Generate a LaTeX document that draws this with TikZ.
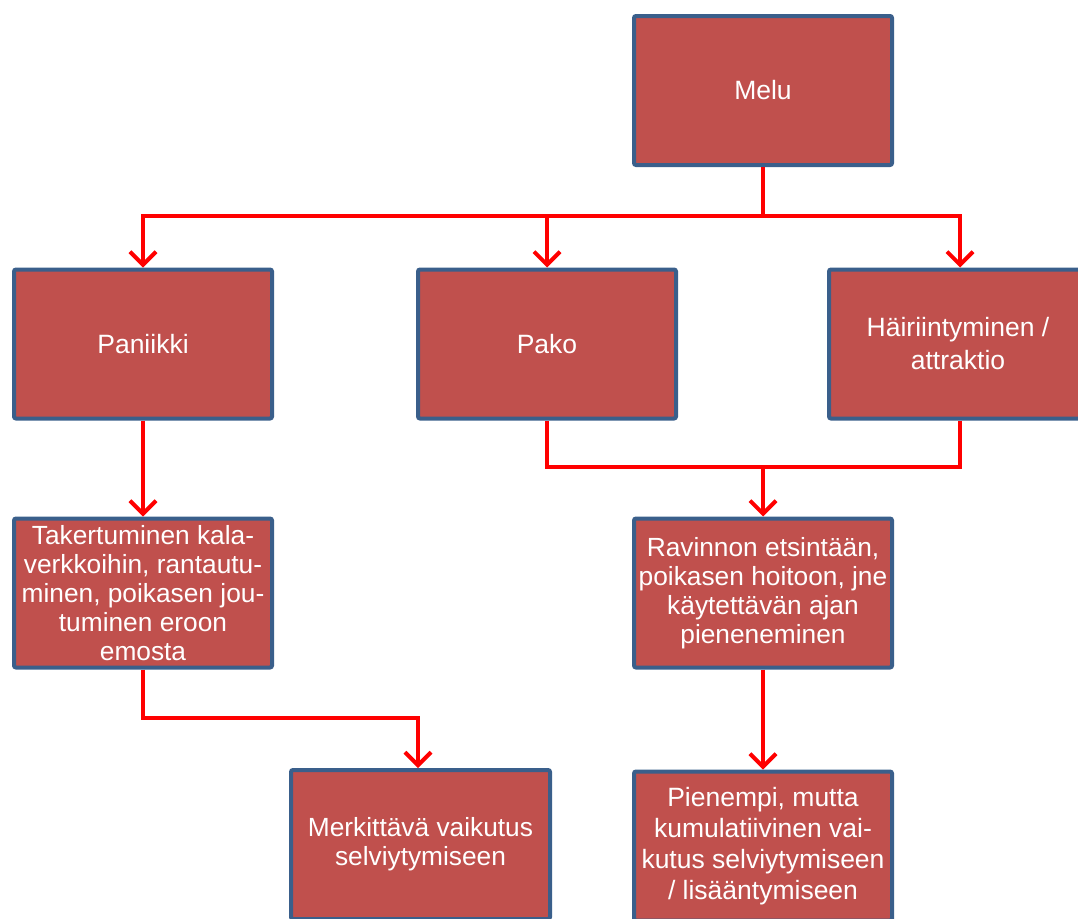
\documentclass[tikz,border=0pt]{standalone}
\usepackage{fontspec}
\setmainfont{Liberation Sans}
\usetikzlibrary{arrows.meta}
\definecolor{laatikko}{HTML}{C0504D}
\definecolor{reuna}{HTML}{3A5F8B}
\definecolor{nuoli}{HTML}{FF0000}
\tikzset{
  laat/.style={draw=reuna, line width=4pt, fill=laatikko, rounded corners=2pt,
    minimum width=258pt, minimum height=149pt, inner sep=2pt,
    text=white, align=center, font=\fontsize{26.5}{33}\selectfont},
  pieni/.style={font=\fontsize{26.3}{29}\selectfont},
  viiva/.style={draw=nuoli, line width=4pt},
  nuoli/.style={viiva, -{Straight Barb[length=13pt,width=26pt]}}
}
\begin{document}
\begin{tikzpicture}[x=1pt,y=-1pt]
		\useasboundingbox (0,0) rectangle (1078,918);
		\node[laat] at (763,90.5) (melu) {Melu};
		\node[laat] at (143,344) (paniikki) {Paniikki};
		\node[laat] at (547,344) (pako) {Pako};
		\node[laat] at (958,344) (hairi) {Häiriintyminen /\\attraktio};
		\node[laat,pieni] at (143,593) (taker) {Takertuminen kala-\\verkkoihin, rantautu-\\minen, poikasen jou-\\tuminen eroon\\emosta};
		\node[laat,pieni] at (763,593) (ravinto) {Ravinnon etsintään,\\poikasen hoitoon, jne\\käytettävän ajan\\pieneneminen};
		\node[laat,pieni,minimum width=259pt] at (420.5,844.5) (merk) {Merkittävä vaikutus\\selviytymiseen};
		\node[laat,font=\fontsize{26.5}{31}\selectfont] at (763,846) (pien) {Pienempi, mutta\\kumulatiivinen vai-\\kutus selviytymiseen\\/ lisääntymiseen};
		
		\coordinate (jako) at (763,216);
		\coordinate (yhd) at (763,467);
		\coordinate (mutka) at (418,718);
		
		\draw[viiva] (melu) -- (jako);
		\draw[nuoli] (jako) -| (paniikki.north);
		\draw[nuoli] (jako) -| (pako.north);
		\draw[nuoli] (jako) -| ([xshift=2pt]hairi.north);
		
		\draw[viiva] (pako.south) |- (yhd);
		\draw[viiva] ([xshift=2pt]hairi.south) |- (yhd);
		\draw[nuoli] (yhd) -- (ravinto.north);
		
		\draw[nuoli] (paniikki) -- (taker);
		\draw[nuoli] (taker.south) |- (mutka) -- (mutka |- merk.north);
		\draw[nuoli] (ravinto) -- (pien);
	\end{tikzpicture}
\end{document}
